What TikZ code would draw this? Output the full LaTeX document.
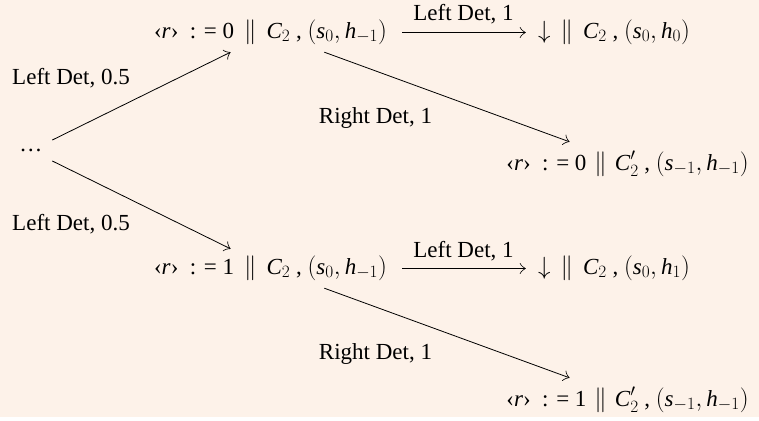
\documentclass[tikz,border=0pt]{standalone}
\usepackage{fontspec}
\setmainfont{Liberation Serif}
\usetikzlibrary{arrows.meta}
\definecolor{bgc}{RGB}{253,242,233}
\begin{document}
\begin{tikzpicture}[x=1pt,y=-1pt,
  every node/.style={font=\fontsize{23}{27}\selectfont},
  st/.style={inner xsep=0pt, inner ysep=8pt, text height=17pt, text depth=6pt, anchor=base},
  tall/.style={st, text height=20pt, inner xsep=4pt},
  lbl/.style={inner sep=0pt, anchor=base},
  arr/.style={-{Classical TikZ Rightarrow[length=6pt,width=11pt]}, line width=0.8pt}]
\fill[bgc] (0,0) rectangle (759,417);
\node[inner sep=0pt, minimum width=42pt, minimum height=24pt] (dots) at (31,150.5) {…};
\node[st, minimum width=263pt] (top) at (270.5,38) {‹\textit{r}›\ \ : = 0\hspace{10pt}\(\|\)\hspace{10pt}\(\mathit{C}_2\) , \((\mathit{s}_0, \mathit{h}_{-1})\)};
\node[st, minimum width=176pt] (topR) at (614,38) {\(\downarrow\)\hspace{10pt}\(\|\)\hspace{10pt}\(\mathit{C}_2\) , \((\mathit{s}_0, \mathit{h}_0)\)};
\node[tall] (mid1) at (627.5,170) {‹\textit{r}›\ \ : = 0\hspace{8pt}\(\big\|\)\hspace{8pt}\(\mathit{C}'_2\) , \((\mathit{s}_{-1}, \mathit{h}_{-1})\)};
\node[st, minimum width=263pt] (bot) at (270.5,274) {‹\textit{r}›\ \ : = 1\hspace{10pt}\(\|\)\hspace{10pt}\(\mathit{C}_2\) , \((\mathit{s}_0, \mathit{h}_{-1})\)};
\node[st, minimum width=176pt] (botR) at (614,274) {\(\downarrow\)\hspace{10pt}\(\|\)\hspace{10pt}\(\mathit{C}_2\) , \((\mathit{s}_0, \mathit{h}_1)\)};
\node[tall] (mid2) at (627.5,406) {‹\textit{r}›\ \ : = 1\hspace{8pt}\(\big\|\)\hspace{8pt}\(\mathit{C}'_2\) , \((\mathit{s}_{-1}, \mathit{h}_{-1})\)};
\node[lbl] (l1) at (463.5,21) {Left Det, 1};
\node[lbl] (l2) at (71,84) {Left Det, 0.5};
\node[lbl] (l3) at (71,230) {Left Det, 0.5};
\node[lbl] (l4) at (375.5,123) {Right Det, 1};
\node[lbl] (l5) at (463.5,257) {Left Det, 1};
\node[lbl] (l6) at (375.5,359) {Right Det, 1};
\draw[arr] (dots) -- (top);
\draw[arr] (dots) -- (bot);
\draw[arr] (top) -- (topR);
\draw[arr] (top) -- (mid1);
\draw[arr] (bot) -- (botR);
\draw[arr] (bot) -- (mid2);
\end{tikzpicture}
\end{document}
